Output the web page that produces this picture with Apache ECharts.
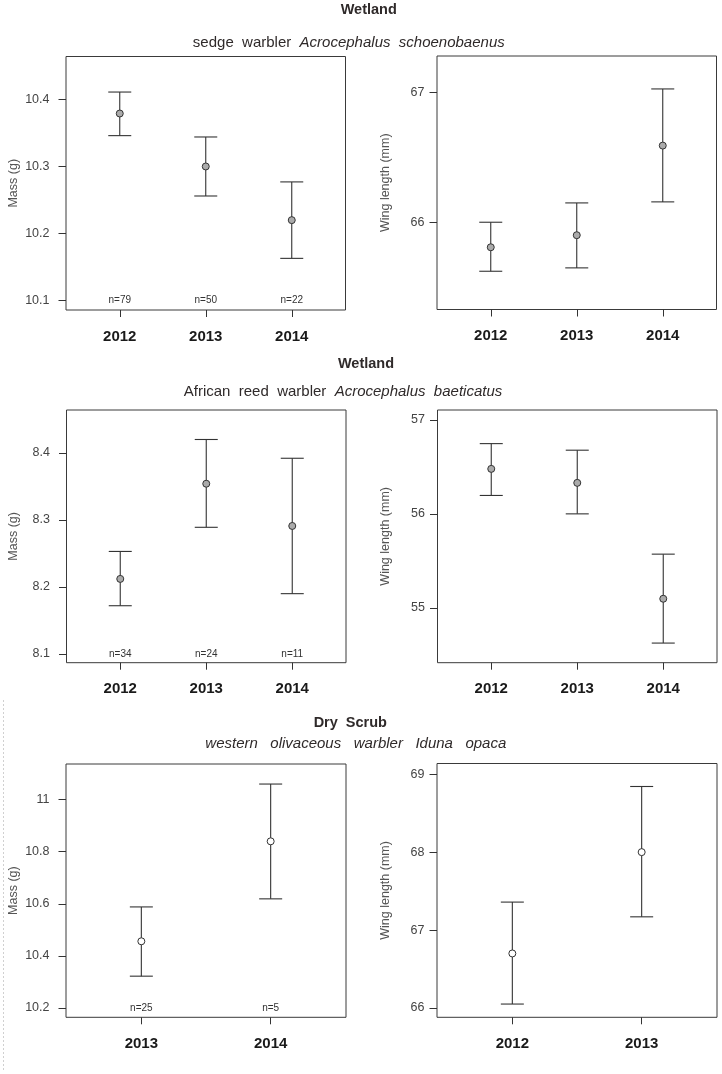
<!DOCTYPE html>
<html>
<head>
<meta charset="utf-8">
<script src="https://cdn.jsdelivr.net/npm/echarts@6/dist/echarts.min.js"></script>
<style>
html,body{margin:0;padding:0;background:#fff;}
#chart{width:722px;height:1074px;}
</style>
</head>
<body>
<div id="chart"></div>
<script>
// ---------- data ----------
const years3 = ['2012', '2013', '2014'];
const yearsOliveMass = ['2013', '2014'];
const yearsOliveWing = ['2012', '2013'];

const sedgeMassMean = [10.379, 10.300, 10.220];
const sedgeMassLo   = [10.346, 10.256, 10.163];
const sedgeMassHi   = [10.411, 10.344, 10.277];
const sedgeN        = [79, 50, 22];
const sedgeWingMean = [65.807, 65.900, 66.591];
const sedgeWingLo   = [65.622, 65.648, 66.157];
const sedgeWingHi   = [66.000, 66.149, 67.028];

const reedMassMean = [8.212, 8.354, 8.291];
const reedMassLo   = [8.172, 8.289, 8.190];
const reedMassHi   = [8.253, 8.420, 8.392];
const reedN        = [34, 24, 11];
const reedWingMean = [56.479, 56.330, 55.096];
const reedWingLo   = [56.196, 56.000, 54.624];
const reedWingHi   = [56.748, 56.678, 55.571];

const oliveMassMean = [10.456, 10.840];
const oliveMassLo   = [10.322, 10.619];
const oliveMassHi   = [10.588, 11.060];
const oliveN        = [25, 5];
const oliveWingMean = [66.700, 68.000];
const oliveWingLo   = [66.051, 67.170];
const oliveWingHi   = [67.359, 68.842];

const sedgeMassTicks = [10.1, 10.2, 10.3, 10.4];
const sedgeWingTicks = [66, 67];
const reedMassTicks  = [8.1, 8.2, 8.3, 8.4];
const reedWingTicks  = [55, 56, 57];
const oliveMassTicks = [10.2, 10.4, 10.6, 10.8, 11];
const oliveWingTicks = [66, 67, 68, 69];

// ---------- layout ----------
const FONT = 'Liberation Sans, Arial, Helvetica, sans-serif';
const panels = [
  {grid:{left:66, top:56.5, width:279.5, height:253.5}, xr:[0.375,3.625], yr:[10.086,10.464],
   cats:years3, mean:sedgeMassMean, lo:sedgeMassLo, hi:sedgeMassHi, n:sedgeN, ticks:sedgeMassTicks,
   name:'Mass (g)', fill:'#ababab', lblMargin:16.5, nameGap:46},
  {grid:{left:437, top:56, width:279.5, height:253.5}, xr:[0.375,3.625], yr:[65.327,67.282],
   cats:years3, mean:sedgeWingMean, lo:sedgeWingLo, hi:sedgeWingHi, n:null, ticks:sedgeWingTicks,
   name:'Wing length (mm)', fill:'#ababab', lblMargin:12.5, nameGap:45},
  {grid:{left:66.5, top:410, width:279.5, height:252.7}, xr:[0.375,3.625], yr:[8.087,8.464],
   cats:years3, mean:reedMassMean, lo:reedMassLo, hi:reedMassHi, n:reedN, ticks:reedMassTicks,
   name:'Mass (g)', fill:'#ababab', lblMargin:16.5, nameGap:46},
  {grid:{left:437.5, top:410, width:279.5, height:252.7}, xr:[0.375,3.625], yr:[54.415,57.106],
   cats:years3, mean:reedWingMean, lo:reedWingLo, hi:reedWingHi, n:null, ticks:reedWingTicks,
   name:'Wing length (mm)', fill:'#ababab', lblMargin:12.5, nameGap:45},
  {grid:{left:66, top:764, width:280, height:253.3}, xr:[0.4175,2.5825], yr:[10.164,11.137],
   cats:yearsOliveMass, mean:oliveMassMean, lo:oliveMassLo, hi:oliveMassHi, n:oliveN, ticks:oliveMassTicks,
   name:'Mass (g)', fill:'#ffffff', lblMargin:16.5, nameGap:46},
  {grid:{left:437, top:763.5, width:280, height:253.8}, xr:[0.4175,2.5825], yr:[65.881,69.137],
   cats:yearsOliveWing, mean:oliveWingMean, lo:oliveWingLo, hi:oliveWingHi, n:null, ticks:oliveWingTicks,
   name:'Wing length (mm)', fill:'#ffffff', lblMargin:12.5, nameGap:45}
];

const grids = [], xAxes = [], yAxes = [], series = [];

function errRender(params, api) {
  const x = api.value(0), lo = api.value(1), hi = api.value(2);
  const a = api.coord([x, lo]), b = api.coord([x, hi]);
  const w = 11.5;
  const st = {stroke:'#333', lineWidth:1.1};
  return {type:'group', children:[
    {type:'line', shape:{x1:a[0], y1:a[1], x2:b[0], y2:b[1]}, style:st},
    {type:'line', shape:{x1:a[0]-w, y1:a[1], x2:a[0]+w, y2:a[1]}, style:st},
    {type:'line', shape:{x1:b[0]-w, y1:b[1], x2:b[0]+w, y2:b[1]}, style:st}
  ]};
}
function nRender(params, api) {
  const p = api.coord([api.value(0), api.value(1)]);
  return {type:'text', x:p[0], y:p[1],
    style:{text:'n=' + api.value(2), fill:'#333', fontSize:10, fontFamily:FONT, align:'center', verticalAlign:'middle'}};
}

panels.forEach((p, i) => {
  grids.push(Object.assign({show:true, borderColor:'#3a3a3a', borderWidth:1, backgroundColor:'#fff'}, p.grid));
  const xs = p.cats.map((c, k) => k + 1);
  xAxes.push({
    type:'value', gridIndex:i, min:p.xr[0], max:p.xr[1],
    axisLine:{show:false, onZero:false}, splitLine:{show:false},
    axisTick:{show:true, length:7, customValues:xs, lineStyle:{color:'#333', width:1}},
    axisLabel:{show:true, customValues:xs, margin:19, fontSize:15, fontWeight:'bold', color:'#1a1a1a', fontFamily:FONT,
      formatter:(v) => p.cats[Math.round(v) - 1]}
  });
  yAxes.push({
    type:'value', gridIndex:i, min:p.yr[0], max:p.yr[1],
    name:p.name, nameLocation:'middle', nameGap:p.nameGap,
    nameTextStyle:{fontSize:12.5, color:'#555', fontFamily:FONT},
    axisLine:{show:false, onZero:false}, splitLine:{show:false},
    axisTick:{show:true, length:7.5, customValues:p.ticks, lineStyle:{color:'#333', width:1}},
    axisLabel:{show:true, customValues:p.ticks, margin:p.lblMargin, fontSize:12.5, color:'#444', fontFamily:FONT,
      formatter:(v) => String(v)}
  });
  series.push({
    type:'custom', xAxisIndex:i, yAxisIndex:i, renderItem:errRender, silent:true, z:2,
    encode:{x:0, y:[1,2]},
    data: xs.map((x, k) => [x, p.lo[k], p.hi[k]])
  });
  series.push({
    type:'scatter', xAxisIndex:i, yAxisIndex:i, symbol:'circle', symbolSize:7, z:3, silent:true,
    itemStyle:{color:p.fill, borderColor:'#333', borderWidth:1, opacity:1},
    data: xs.map((x, k) => [x, p.mean[k]])
  });
  if (p.n) {
    series.push({
      type:'custom', xAxisIndex:i, yAxisIndex:i, renderItem:nRender, silent:true, z:3,
      encode:{x:0, y:1},
      data: xs.map((x, k) => [x, p.ticks[0], p.n[k]])
    });
  }
});

const richSub = {
  n:{fontSize:15, fontFamily:FONT, color:'#2a2a2a'},
  i:{fontSize:15, fontFamily:FONT, color:'#2a2a2a', fontStyle:'italic'}
};
function txt(x, y, text, bold, rich) {
  return {type:'text', x:x, y:y, silent:true,
    style: Object.assign({text:text, fill:'#2f2a2a', fontFamily:FONT, fontSize: bold ? 14.5 : 15,
      fontWeight: bold ? 'bold' : 'normal', align:'center', verticalAlign:'middle'}, rich ? {rich:richSub} : {})};
}

const graphics = [
  txt(368.7, 10, 'Wetland', true),
  txt(348.8, 42.5, '{n|sedge  warbler}  {i|Acrocephalus  schoenobaenus}', false, true),
  txt(366, 363.5, 'Wetland', true),
  txt(343, 392, '{n|African  reed  warbler}  {i|Acrocephalus  baeticatus}', false, true),
  txt(350.3, 723, 'Dry  Scrub', true),
  txt(355.8, 743.5, '{i|western   olivaceous   warbler   Iduna   opaca}', false, true),
  {type:'line', silent:true, shape:{x1:3.5, y1:700, x2:3.5, y2:1070},
   style:{stroke:'#d0d0d0', lineWidth:1, lineDash:[2,2]}}
];

const chart = echarts.init(document.getElementById('chart'), null, {renderer:'canvas'});
chart.setOption({
  animation:false,
  backgroundColor:'#fff',
  grid:grids, xAxis:xAxes, yAxis:yAxes, series:series,
  graphic:graphics
});
</script>
</body>
</html>
